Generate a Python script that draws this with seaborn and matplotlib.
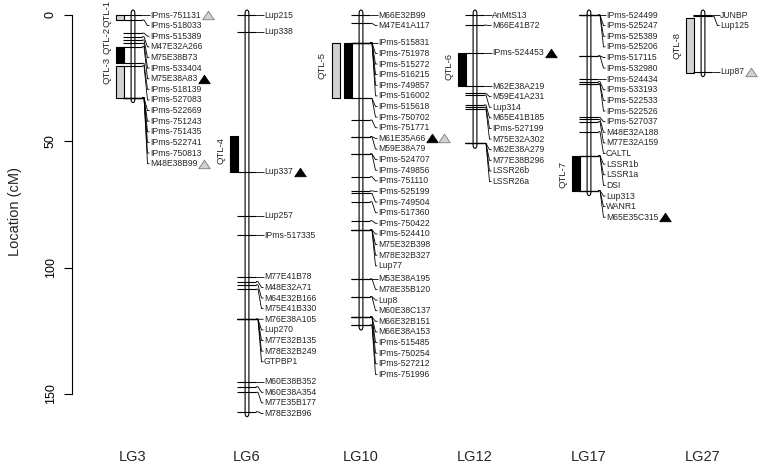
import numpy as np
import pandas as pd
import matplotlib
matplotlib.use("Agg")
import matplotlib.pyplot as plt
from matplotlib.patches import Rectangle, Polygon
from matplotlib.collections import LineCollection
from matplotlib.markers import MarkerStyle
import seaborn as sns

# ---------------- data ----------------
lg_names = ["LG3", "LG6", "LG10", "LG12", "LG17", "LG27"]

lg3_markers = ["IPms-751131", "IPms-518033", "IPms-515389", "M47E32A266", "M75E38B73",
               "IPms-533404", "M75E38A83", "IPms-518139", "IPms-527083", "IPms-522669",
               "IPms-751243", "IPms-751435", "IPms-522741", "IPms-750813", "M48E38B99"]
lg3_pos = [0.0, 2.0, 7.2, 8.6, 9.9, 11.2, 12.5, 19.1, 20.1, 32.7, 32.7, 32.7, 32.7, 32.7, 32.7]

lg6_markers = ["Lup215", "Lup338", "Lup337", "Lup257", "IPms-517335", "M77E41B78",
               "M48E32A71", "M64E32B166", "M75E41B330", "M76E38A105", "Lup270",
               "M77E32B135", "M78E32B249", "GTPBP1", "M60E38B352", "M60E38A354",
               "M77E35B177", "M78E32B96"]
lg6_pos = [0.0, 6.7, 62.1, 79.5, 87.1, 103.6, 105.5, 106.8, 108.5, 120.4, 120.4,
           120.4, 120.4, 120.4, 145.1, 147.1, 149.3, 157.0]

lg10_markers = ["M66E32B99", "M47E41A117", "IPms-515831", "IPms-751978", "IPms-515272",
                "IPms-516215", "IPms-749857", "IPms-516002", "IPms-515618", "IPms-750702",
                "IPms-751771", "M61E35A66", "M59E38A79", "IPms-524707", "IPms-749856",
                "IPms-751110", "IPms-525199", "IPms-749504", "IPms-517360", "IPms-750422",
                "IPms-524410", "M75E32B398", "M78E32B327", "Lup77", "M53E38A195",
                "M78E35B120", "Lup8", "M60E38C137", "M66E32B151", "M66E38A153",
                "IPms-515485", "IPms-750254", "IPms-527212", "IPms-751996"]
lg10_pos = [0.0, 3.3, 11.0, 11.0, 11.0, 11.0, 11.0, 11.0, 33.0, 33.0,
            41.6, 48.2, 48.2, 55.0, 55.0, 64.0, 69.6, 70.6, 73.9, 81.4,
            85.1, 85.1, 85.1, 85.1, 104.4, 104.4, 111.5, 111.5, 119.5, 119.5,
            119.5, 119.5, 122.7, 122.7]

lg12_markers = ["AnMtS13", "M66E41B72", "IPms-524453", "M62E38A219", "M59E41A231",
                "Lup314", "M65E41B185", "IPms-527199", "M75E32A302", "M62E38A279",
                "M77E38B296", "LSSR26b", "LSSR26a"]
lg12_pos = [0.0, 4.0, 14.9, 28.1, 31.0, 31.7, 35.6, 36.5, 37.3, 50.8, 50.8, 50.8, 50.8]

lg17_markers = ["IPms-524499", "IPms-525247", "IPms-525389", "IPms-525206", "IPms-517115",
                "IPms-532980", "IPms-524434", "IPms-533193", "IPms-522533", "IPms-522526",
                "IPms-527037", "M48E32A188", "M77E32A159", "CALTL", "LSSR1b", "LSSR1a",
                "DSI", "Lup313", "WANR1", "M65E35C315"]
lg17_pos = [0.0, 0.0, 0.0, 0.0, 16.2, 16.2, 25.4, 26.4, 27.3, 27.3,
            40.5, 41.3, 42.2, 46.2, 55.7, 55.7, 55.7, 69.5, 69.5, 69.5]

lg27_markers = ["JUNBP", "Lup125", "Lup87"]
lg27_pos = [0.0, 0.5, 22.4]

all_markers = [lg3_markers, lg6_markers, lg10_markers, lg12_markers, lg17_markers, lg27_markers]
all_pos = [lg3_pos, lg6_pos, lg10_pos, lg12_pos, lg17_pos, lg27_pos]

# QTL bars
qtl_names = ["QTL-1", "QTL-2", "QTL-3", "QTL-4", "QTL-5", "QTL-5", "QTL-6", "QTL-7", "QTL-8"]
qtl_lg = ["LG3", "LG3", "LG3", "LG6", "LG10", "LG10", "LG12", "LG17", "LG27"]
qtl_start = [0.0, 12.5, 20.1, 47.9, 11.0, 11.0, 14.9, 55.7, 1.3]
qtl_end = [2.0, 19.1, 32.9, 62.1, 33.0, 33.0, 28.1, 69.5, 22.8]
qtl_fill = ["gray", "black", "gray", "black", "black", "gray", "black", "black", "gray"]
qtl_col = [0, 0, 0, 0, 0, 1, 0, 0, 0]
qtl_label_pos = [-0.6, 10.1, 21.8, 53.8, 19.8, 19.8, 20.2, 62.9, 11.9]

# triangles next to marker labels
tri_lg = ["LG3", "LG3", "LG3", "LG6", "LG10", "LG10", "LG12", "LG17", "LG27"]
tri_marker = ["IPms-751131", "M75E38A83", "M48E38B99", "Lup337", "M61E35A66", "M61E35A66",
              "IPms-524453", "M65E35C315", "Lup87"]
tri_kind = ["gray", "black", "gray", "black", "black", "gray", "black", "black", "gray"]

# ---------------- style ----------------
sns.set_theme(style="white")
plt.rcParams["font.family"] = ["Liberation Sans", "DejaVu Sans"]

W, H = 770, 468
PX = 2.527          # pixels per cM
XS = 114.0          # pixels between linkage groups
TOP0 = 15           # pixel row of 0 cM
FIRST = 133         # pixel column of first chromosome
AXL = 72            # pixel column of y axis

fig = plt.figure(figsize=(W / 100, H / 100), dpi=100)
ax = fig.add_axes([AXL / W, 0, 1 - AXL / W, 1])
ax.set_xlim(-(FIRST - AXL) / XS, (W - FIRST) / XS)
ax.set_ylim((H - TOP0) / PX, -TOP0 / PX)


def dx(p):
    return p / XS


def dy(p):
    return p / PX


GAP = dy(10.62)
FILL = {"gray": "#d2d2d2", "black": "black"}

label_artists = {}
segs = []
for i, (lg, mk, pos) in enumerate(zip(lg_names, all_markers, all_pos)):
    xc = i
    pos = np.asarray(pos, float)
    y0, y1 = pos.min() - dy(1.5), pos.max() + dy(1.5)
    hw, cap = dx(1.9), dy(3.5)
    t = np.linspace(0, np.pi, 14)
    pts = [(xc + hw * np.cos(a), y0 - cap * np.sin(a)) for a in t] + \
          [(xc - hw * np.cos(a), y1 + cap * np.sin(a)) for a in t]
    ax.add_patch(Polygon(pts, closed=True, fc="white", ec="black", lw=0.8, zorder=3))
    # marker ticks
    ax.hlines(pos, xc - dx(10), xc + dx(9), color="black", lw=0.8, zorder=4)
    # label positions (push down to avoid overlap)
    lab = []
    prev = -1e9
    for p in pos:
        y = max(p, prev + GAP)
        lab.append(y)
        prev = y
    for name, p, yl in zip(mk, pos, lab):
        segs.append([(xc + dx(9), p), (xc + dx(11), p), (xc + dx(14.5), yl), (xc + dx(16.5), yl)])
        txt = ax.text(xc + dx(17), yl, name, ha="left", va="center", fontsize=6.2, zorder=5)
        label_artists[(lg, name)] = txt
    ax.text(xc, dy(457 - TOP0), lg, ha="center", va="center", fontsize=10.5)

ax.add_collection(LineCollection(segs, colors="black", linewidths=0.6, zorder=2))

# QTL bars and labels
labelled = {}
for nm, lg, s, e, f, c, lp in zip(qtl_names, qtl_lg, qtl_start, qtl_end, qtl_fill, qtl_col, qtl_label_pos):
    xc = lg_names.index(lg)
    ax.add_patch(Rectangle((xc - dx(17.5) - c * dx(12), s), dx(8), e - s,
                           fc=FILL[f], ec="black", lw=0.8, zorder=3))
    labelled[nm] = (xc, max(c, labelled.get(nm, (0, 0, 0))[1]), lp)
for nm, (xc, c, lp) in labelled.items():
    ax.text(xc - dx(26) - c * dx(13), lp, nm, rotation=90, ha="center", va="center", fontsize=6.8)

# triangles placed after their labels
fig.canvas.draw()
rend = fig.canvas.get_renderer()
inv = ax.transData.inverted()
rows = []
count = {}
for lg, mk, kind in zip(tri_lg, tri_marker, tri_kind):
    txt = label_artists[(lg, mk)]
    bb = txt.get_window_extent(rend)
    k = count.get((lg, mk), 0)
    count[(lg, mk)] = k + 1
    xd = inv.transform((bb.x1 + 7 + 12 * k, 0))[0]
    rows.append({"x": xd, "y": txt.get_position()[1], "kind": kind})
tri_df = pd.DataFrame(rows)
tri = MarkerStyle([(-1, -0.74), (1, -0.74), (0, 0.74), (-1, -0.74)])
for kind, ec in [("black", "black"), ("gray", "#7a7a7a")]:
    sub = tri_df[tri_df["kind"] == kind]
    sns.scatterplot(data=sub, x="x", y="y", ax=ax, marker=tri, s=68, color=FILL[kind],
                    edgecolor=ec, linewidth=0.6, legend=False, zorder=6)

# axes styling
for sp in ["top", "right", "bottom"]:
    ax.spines[sp].set_visible(False)
ax.spines["left"].set_bounds(0, 150)
ax.spines["left"].set_linewidth(0.8)
ax.spines["left"].set_color("black")
ax.set_xticks([])
ax.set_yticks([0, 50, 100, 150])
ax.tick_params(axis="y", left=True, length=6, width=0.8, pad=5, labelsize=9, colors="black")
for tl in ax.get_yticklabels():
    tl.set_rotation(90)
    tl.set_va("center")
ax.set_xlabel("")
ax.set_ylabel("")
fig.text(15 / W, 1 - 212 / H, "Location (cM)", rotation=90, ha="center", va="center", fontsize=10.5)

fig.savefig("out.png", dpi=100)
